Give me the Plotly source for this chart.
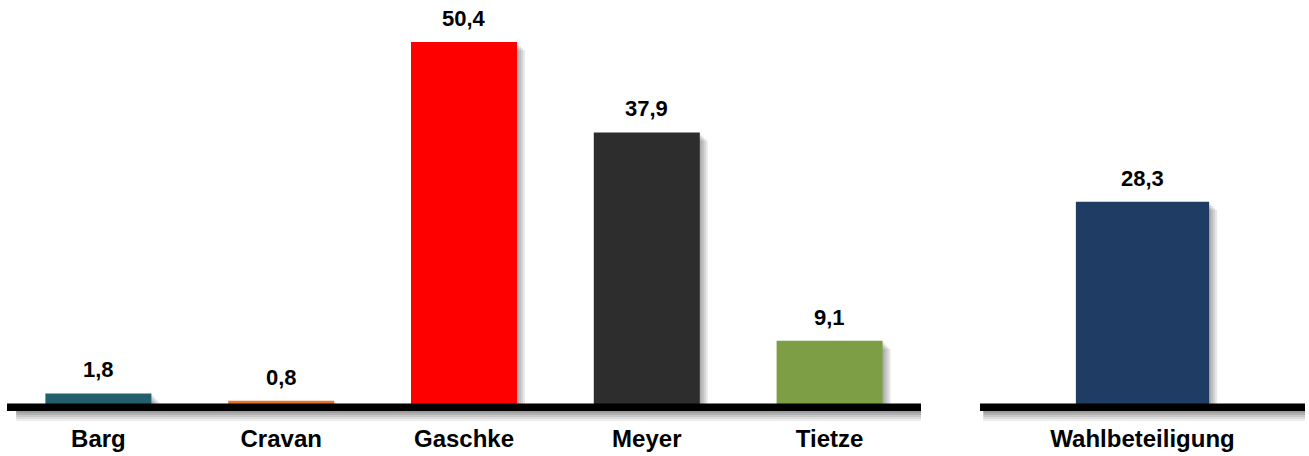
import plotly.graph_objects as go

# Ergebnisse der Kandidaten (in %) und Wahlbeteiligung
kandidaten = ["Barg", "Cravan", "Gaschke", "Meyer", "Tietze"]
stimmen = [1.8, 0.8, 50.4, 37.9, 9.1]
farben = ["#23606E", "#E8742A", "#FE0000", "#2D2D2D", "#7E9E46"]

beteiligung_label = ["Wahlbeteiligung"]
beteiligung = [28.3]
beteiligung_farbe = ["#1F3D64"]

W, H = 1309, 456
ZERO_PX = 406.5        # pixel row of the value 0
BOTTOM_PX = 422.0      # lower edge of the plotting area
px_per_unit = 7.232
Y_MAX = ZERO_PX / px_per_unit
Y_MIN = -(BOTTOM_PX - ZERO_PX) / px_per_unit
Y_DOMAIN = [(H - BOTTOM_PX) / H, 1.0]

X1_DOMAIN = [7 / W, 921 / W]
X2_DOMAIN = [980 / W, 1305 / W]
slot1_px = (X1_DOMAIN[1] - X1_DOMAIN[0]) * W / len(kandidaten)
slot2_px = (X2_DOMAIN[1] - X2_DOMAIN[0]) * W
BAR1 = 0.58
BAR2 = 0.41

FONT = "Liberation Sans, Arial"

fig = go.Figure()


def add_shadow(cats, vals, width, slot_px, xa, ya):
    # soft drop shadow built from a few translucent offset layers
    for step in (8, 6, 4, 2):
        dx = step / slot_px
        dy = step / px_per_unit
        fig.add_trace(go.Bar(
            x=cats, y=[max(v - dy, 0) for v in vals], width=width,
            offset=-width / 2 + dx, base=0,
            marker=dict(color="rgba(0,0,0,0.09)", line=dict(width=0)),
            xaxis=xa, yaxis=ya, hoverinfo="skip", showlegend=False,
        ))


add_shadow(kandidaten, stimmen, BAR1, slot1_px, "x", "y")
add_shadow(beteiligung_label, beteiligung, BAR2, slot2_px, "x2", "y2")

fig.add_trace(go.Bar(
    x=kandidaten, y=stimmen, width=BAR1, base=0,
    marker=dict(color=farben, line=dict(width=0)),
    xaxis="x", yaxis="y", showlegend=False,
))
fig.add_trace(go.Bar(
    x=beteiligung_label, y=beteiligung, width=BAR2, base=0,
    marker=dict(color=beteiligung_farbe, line=dict(width=0)),
    xaxis="x2", yaxis="y2", showlegend=False,
))


def fmt(v):
    return f"{v:.1f}".replace(".", ",")


annotations = []
for xa, ya, cats, vals in (("x", "y", kandidaten, stimmen),
                           ("x2", "y2", beteiligung_label, beteiligung)):
    for c, v in zip(cats, vals):
        annotations.append(dict(x=c, y=v, xref=xa, yref=ya, text=f"<b>{fmt(v)}</b>",
                                showarrow=False, yanchor="bottom", yshift=9,
                                font=dict(family=FONT, size=22, color="#000")))

# baselines with a soft shadow underneath
shapes = []
for xr, yr in (("x domain", "y"), ("x2 domain", "y2")):
    for i, op in enumerate([0.38, 0.30, 0.22, 0.14, 0.07]):
        y_top = -(4.5 + i * 2) / px_per_unit
        y_bot = -(6.5 + i * 2) / px_per_unit
        shapes.append(dict(type="rect", xref=xr, yref=yr, x0=0.01, x1=1.0,
                           y0=y_bot, y1=y_top, line=dict(width=0),
                           fillcolor=f"rgba(0,0,0,{op})", layer="above"))
    shapes.append(dict(type="rect", xref=xr, yref=yr, x0=0, x1=1,
                       y0=-4.5 / px_per_unit, y1=3 / px_per_unit,
                       line=dict(width=0), fillcolor="#000000", layer="above"))

axis_common = dict(showgrid=False, zeroline=False, showline=False, ticks="",
                   tickfont=dict(family=FONT, size=24, color="#000"),
                   ticklabelstandoff=0)
fig.update_layout(
    width=W, height=H,
    margin=dict(l=0, r=0, t=0, b=0),
    paper_bgcolor="white", plot_bgcolor="white",
    barmode="overlay",
    xaxis=dict(domain=X1_DOMAIN, range=[-0.5, 4.5], anchor="y",
               tickvals=kandidaten, ticktext=[f"<b>{k}</b>" for k in kandidaten], **axis_common),
    xaxis2=dict(domain=X2_DOMAIN, range=[-0.5, 0.5], anchor="y2",
                tickvals=beteiligung_label, ticktext=[f"<b>{k}</b>" for k in beteiligung_label], **axis_common),
    yaxis=dict(domain=Y_DOMAIN, range=[Y_MIN, Y_MAX], visible=False, anchor="x"),
    yaxis2=dict(domain=Y_DOMAIN, range=[Y_MIN, Y_MAX], visible=False, anchor="x2"),
    annotations=annotations,
    shapes=shapes,
)

fig.write_html("out.html")
